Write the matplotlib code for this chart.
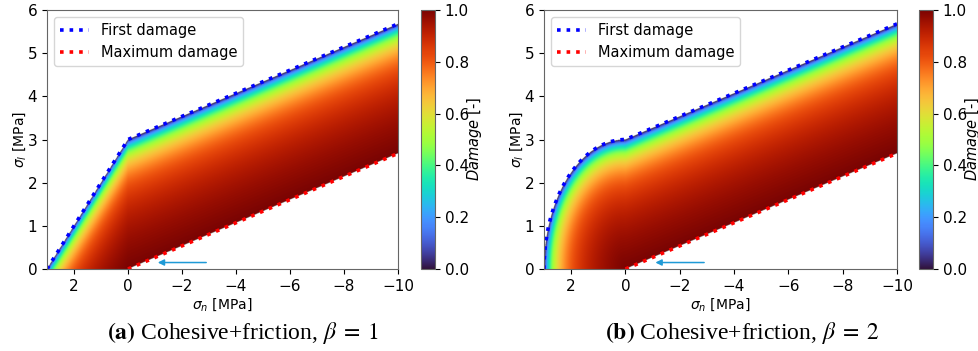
import numpy as np
import matplotlib
matplotlib.use("Agg")
import matplotlib.pyplot as plt

# Interface parameters (MPa)
cohesion = 3.0
tensile_strength = 3.0
friction_angle_deg = 15.0
softening_ratio = 7.0           # final / initial opening for linear softening
betas = [1, 2]                  # shape exponent of the tension cap
panel_tags = ["(a)", "(b)"]
panel_titles = ["Cohesive+friction", "Cohesive+friction"]

x_ticks = [2, 0, -2, -4, -6, -8, -10]
y_ticks = [0, 1, 2, 3, 4, 5, 6]
cbar_ticks = [0.0, 0.2, 0.4, 0.6, 0.8, 1.0]
x_limits = (3.0, -10.0)
y_limits = (0.0, 6.0)

arrow_start = (-3.0, 0.15)
arrow_end = (-1.0, 0.15)

tan_phi = np.tan(np.radians(friction_angle_deg))


def strength_fraction(sn, tau, beta):
    """Remaining fraction h of the initial strength for which (sn, tau) lies on the surface."""
    h_shear = (tau + tan_phi * sn) / cohesion
    snp = np.clip(sn, 0, None)
    h_tens = ((snp / tensile_strength) ** beta + (tau / cohesion) ** beta) ** (1.0 / beta)
    return np.where(sn <= 0, h_shear, h_tens)


def damage_from_fraction(h):
    return 1.0 - h / (1.0 + softening_ratio * (1.0 - h))


def first_damage_curve(beta):
    s_t = np.linspace(tensile_strength, 0, 400)
    t_t = cohesion * np.clip(1 - (s_t / tensile_strength) ** beta, 0, None) ** (1.0 / beta)
    s_c = np.linspace(0, -10, 200)
    t_c = cohesion - tan_phi * s_c
    return np.concatenate([s_t, s_c[1:]]), np.concatenate([t_t, t_c[1:]])


W, H = 979, 351
fig = plt.figure(figsize=(W / 100, H / 100), dpi=100)


def fr(l, r, t, b):
    return [l / W, (H - b) / H, (r - l) / W, (b - t) / H]


ax_boxes = [fr(47, 398, 10, 269), fr(544, 897, 10, 269)]
cb_boxes = [fr(421, 435, 10, 269), fr(919, 933, 10, 269)]
caption_x = [243 / W, 742 / W]

sn_grid = np.linspace(x_limits[0], x_limits[1], 1400)
tau_grid = np.linspace(y_limits[0], y_limits[1], 700)
SN, TAU = np.meshgrid(sn_grid, tau_grid)

for i, beta in enumerate(betas):
    ax = fig.add_axes(ax_boxes[i])
    h = strength_fraction(SN, TAU, beta)
    inside = (h >= 0) & (h <= 1)
    D = np.ma.masked_where(~inside, damage_from_fraction(np.clip(h, 0, 1)))
    im = ax.imshow(D, cmap="turbo", vmin=0, vmax=1, origin="lower", aspect="auto",
                   extent=[sn_grid[0], sn_grid[-1], tau_grid[0], tau_grid[-1]],
                   interpolation="bilinear")

    fs, ft = first_damage_curve(beta)
    ax.plot(fs, ft, ":", color="blue", lw=2.6, label="First damage")
    ms = np.linspace(0, -10, 100)
    ax.plot(ms, -tan_phi * ms, ":", color="red", lw=2.6, label="Maximum damage")

    ax.annotate("", xy=arrow_end, xytext=arrow_start,
                arrowprops=dict(arrowstyle="-|>", color="#1f9ad6", lw=1.1,
                                mutation_scale=9))

    ax.set_xlim(*x_limits)
    ax.set_ylim(*y_limits)
    ax.set_xticks(x_ticks)
    ax.set_yticks(y_ticks)
    ax.set_xlabel(r"$\sigma_n$ [MPa]", labelpad=2)
    ax.set_ylabel(r"$\sigma_l$ [MPa]", labelpad=0)
    ax.tick_params(labelsize=11)
    for sp in ax.spines.values():
        sp.set_color("0.4")
    ax.legend(loc="upper left", fontsize=10.5)

    cax = fig.add_axes(cb_boxes[i])
    cb = fig.colorbar(im, cax=cax, ticks=cbar_ticks)
    cb.ax.tick_params(labelsize=11)
    cb.outline.set_edgecolor("0.4")
    cb.set_label(r"$Damage$ [-]", fontsize=10.5, labelpad=-3)

    fig.text(caption_x[i], 0.052,
             r"$\mathbf{" + panel_tags[i] + r"}$ " + panel_titles[i] + r", $\beta\;=\;" + str(beta) + r"$",
             ha="center", va="center", fontsize=17, family="Liberation Serif",
             math_fontfamily="stix")

fig.savefig("out.png", dpi=100)
